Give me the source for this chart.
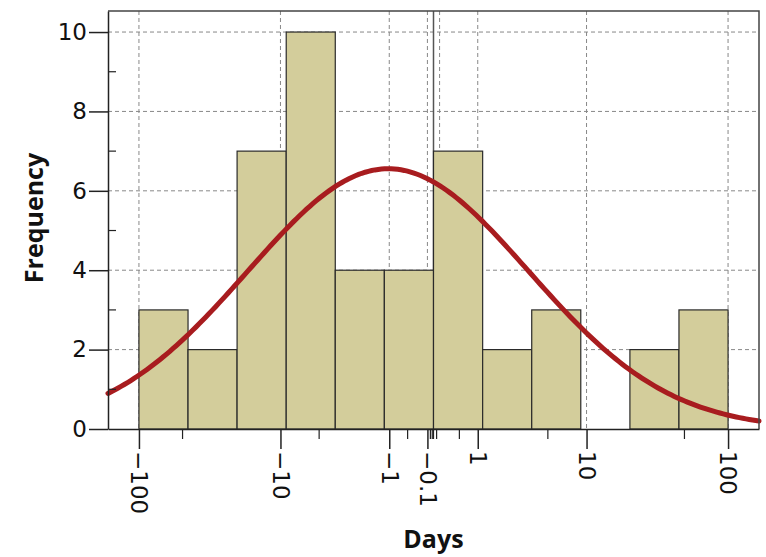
<!DOCTYPE html>
<html>
<head>
<meta charset="utf-8">
<script src="https://cdn.jsdelivr.net/npm/d3@7"></script>
<style>
  body { margin: 0; background: #fff; }
  svg { display: block; }
  .tick text { font-family: "DejaVu Sans", sans-serif; font-size: 23px; fill: #111; }
  .title { font-family: "Open Sans", sans-serif; font-weight: bold; font-size: 25px; fill: #111; }
</style>
</head>
<body>
<div id="chart"></div>
<script>
// histogram counts per bin (bins equal width on the symlog axis)
const counts = [3, 2, 7, 10, 4, 4, 7, 2, 3, 0, 2, 3];
const binEdges = [-100, -45.8, -20.7, -9.05, -3.66, -1.16, 0, 1.16, 3.66, 9.05, 20.7, 45.8, 100];

const xMajor = [-100, -10, -1, -0.1, 1, 10, 100];
const xLabels = ["\u2212100", "\u221210", "\u22121", "\u22120.1", "1", "10", "100"];
const xMinor = [-50, -5, -0.5, -0.05, -0.02, 0, 0.05, 0.5, 5, 50];
const xGrid = [-100, -10, -1, -0.1, 0.1, 1, 10, 100];
const yMajor = [0, 2, 4, 6, 8, 10];
const yMinor = [1, 3, 5, 7, 9];

// normal fit, in log1p(|days|) units
const fitMean = -0.71;
const fitSd = 2.2;

const width = 766,
  height = 557;
const margin = { top: 11, right: 7, bottom: 128, left: 108 };

const svg = d3
  .select("#chart")
  .append("svg")
  .attr("width", width)
  .attr("height", height);

const x = d3
  .scaleSymlog()
  .constant(1)
  .domain([-163, 163])
  .range([margin.left, width - margin.right]);

const y = d3
  .scaleLinear()
  .domain([0, 10.53])
  .range([height - margin.bottom, margin.top]);

// grid
const grid = svg.append("g");
grid
  .selectAll("line.h")
  .data(yMajor.filter((d) => d > 0))
  .enter()
  .append("line")
  .attr("x1", margin.left)
  .attr("x2", width - margin.right)
  .attr("y1", (d) => y(d))
  .attr("y2", (d) => y(d))
  .attr("stroke", "#888")
  .attr("stroke-dasharray", "4,3");
grid
  .selectAll("line.v")
  .data(xGrid)
  .enter()
  .append("line")
  .attr("x1", (d) => x(d))
  .attr("x2", (d) => x(d))
  .attr("y1", margin.top)
  .attr("y2", height - margin.bottom)
  .attr("stroke", "#888")
  .attr("stroke-dasharray", "4,3");
grid
  .append("line")
  .attr("x1", x(0))
  .attr("x2", x(0))
  .attr("y1", margin.top)
  .attr("y2", height - margin.bottom)
  .attr("stroke", "#555")
  .attr("stroke-width", 1.5);

// bars
const bars = svg.append("g");
counts.forEach((c, i) => {
  if (c === 0) return;
  bars
    .append("rect")
    .attr("x", x(binEdges[i]))
    .attr("y", y(c))
    .attr("width", x(binEdges[i + 1]) - x(binEdges[i]))
    .attr("height", y(0) - y(c))
    .attr("fill", "#d3cd9b")
    .attr("stroke", "#2a2a2a")
    .attr("stroke-width", 1.2);
});

// fitted normal curve
const total = d3.sum(counts);
const toT = (v) => Math.sign(v) * Math.log1p(Math.abs(v));
const fromT = (t) => Math.sign(t) * Math.expm1(Math.abs(t));
const binW = toT(binEdges[1]) - toT(binEdges[0]);
const t0 = toT(x.domain()[0]),
  t1 = toT(x.domain()[1]);
const curve = d3.range(0, 201).map((k) => {
  const t = t0 + ((t1 - t0) * k) / 200;
  const z = (t - fitMean) / fitSd;
  const dens = Math.exp(-0.5 * z * z) / (fitSd * Math.sqrt(2 * Math.PI));
  return [fromT(t), total * binW * dens];
});

svg
  .append("path")
  .datum(curve)
  .attr("fill", "none")
  .attr("stroke", "#a81c1f")
  .attr("stroke-width", 5)
  .attr("stroke-linecap", "round")
  .attr(
    "d",
    d3
      .line()
      .x((d) => x(d[0]))
      .y((d) => y(d[1]))
  );

// frame
svg
  .append("path")
  .attr(
    "d",
    `M${margin.left},${margin.top}H${width - margin.right}V${height - margin.bottom}`
  )
  .attr("fill", "none")
  .attr("stroke", "#444")
  .attr("stroke-width", 1.5);

// x axis
const xAxis = svg
  .append("g")
  .attr("transform", `translate(0,${height - margin.bottom})`)
  .call(
    d3
      .axisBottom(x)
      .tickValues(xMajor)
      .tickSize(20)
      .tickSizeOuter(0)
      .tickFormat((d, i) => xLabels[i])
  );
xAxis.select(".domain").attr("stroke", "#222").attr("stroke-width", 1.5);
xAxis.selectAll(".tick line").attr("stroke", "#222").attr("stroke-width", 1.5);
xAxis
  .selectAll(".tick text")
  .attr("transform", "rotate(90)")
  .attr("x", 22)
  .attr("y", 0)
  .attr("dy", "0.35em")
  .attr("text-anchor", "start");

svg
  .append("g")
  .selectAll("line")
  .data(xMinor)
  .enter()
  .append("line")
  .attr("x1", (d) => x(d))
  .attr("x2", (d) => x(d))
  .attr("y1", y(0))
  .attr("y2", y(0) + 10)
  .attr("stroke", "#222")
  .attr("stroke-width", 1.2);

// y axis
const yAxis = svg
  .append("g")
  .attr("transform", `translate(${margin.left},0)`)
  .call(
    d3
      .axisLeft(y)
      .tickValues(yMajor)
      .tickSize(19)
      .tickPadding(2)
      .tickSizeOuter(0)
  );
yAxis.select(".domain").attr("stroke", "#222").attr("stroke-width", 1.5);
yAxis.selectAll(".tick line").attr("stroke", "#222").attr("stroke-width", 1.5);

svg
  .append("g")
  .selectAll("line")
  .data(yMinor)
  .enter()
  .append("line")
  .attr("x1", margin.left)
  .attr("x2", margin.left + 8)
  .attr("y1", (d) => y(d))
  .attr("y2", (d) => y(d))
  .attr("stroke", "#222")
  .attr("stroke-width", 1.2);

// titles
svg
  .append("text")
  .attr("class", "title")
  .attr("x", x(0))
  .attr("y", 548)
  .attr("text-anchor", "middle")
  .text("Days");

svg
  .append("text")
  .attr("class", "title")
  .attr("transform", "translate(43,218) rotate(-90)")
  .attr("text-anchor", "middle")
  .text("Frequency");
</script>
</body>
</html>
